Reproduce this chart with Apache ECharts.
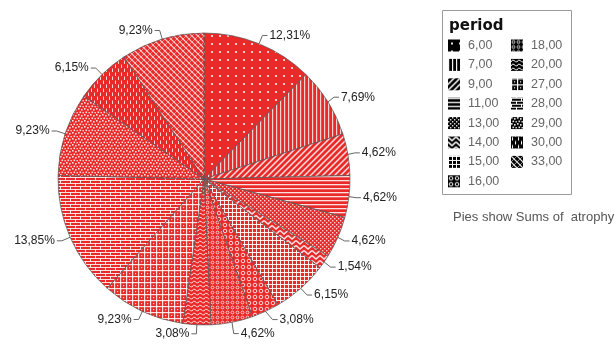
<!DOCTYPE html>
<html>
<head>
<meta charset="utf-8">
<script src="https://cdn.jsdelivr.net/npm/echarts@6/dist/echarts.min.js"></script>
<style>
  html, body { margin: 0; padding: 0; background: #fff; }
  #chart { width: 614px; height: 344px; }
</style>
</head>
<body>
<div id="chart"></div>
<script>
// period categories (legend order = slice order, clockwise from 12 o'clock)
const periods = ['6,00', '7,00', '9,00', '11,00', '13,00', '14,00', '15,00', '16,00',
                 '18,00', '20,00', '27,00', '28,00', '29,00', '30,00', '33,00'];
// share of the atrophy sum per period, in percent
const sharePct = [12.31, 7.69, 4.62, 4.62, 4.62, 1.54, 6.15, 3.08,
                  4.62, 3.08, 9.23, 13.85, 9.23, 6.15, 9.23];
// fill pattern used for each period
const patternKeys = ['dots', 'vlines', 'diag', 'hlines', 'fine', 'zigzag', 'grid', 'rings',
                     'smallRings', 'waves', 'bigDots', 'bricks', 'pebbles', 'dashes', 'mesh'];

const SLICE_RED = '#ea2929';

// Small repeating tiles: background colour plus light marks.
const patternDraw = {
  dots:   { w: 8, h: 8, a: 0.75, f: g => { g.fillRect(3, 3, 2, 2); } },
  vlines: { w: 4, h: 4, a: 0.8, f: g => { g.fillRect(0, 0, 1.2, 4); } },
  diag:   { w: 6, h: 6, a: 0.85, f: g => {
            g.lineWidth = 1.5; g.beginPath();
            g.moveTo(-1, 7); g.lineTo(7, -1);
            g.moveTo(-1, 1); g.lineTo(1, -1);
            g.moveTo(5, 7); g.lineTo(7, 5); g.stroke(); } },
  hlines: { w: 4, h: 4, a: 0.85, f: g => { g.fillRect(0, 0, 4, 1.3); } },
  fine:   { w: 4, h: 4, a: 0.8, f: g => { g.fillRect(0, 0, 1.4, 1.4); g.fillRect(2, 2, 1.4, 1.4); } },
  zigzag: { w: 8, h: 5, a: 0.85, f: g => {
            g.lineWidth = 1.6; g.beginPath();
            g.moveTo(0, 0.5); g.lineTo(4, 4); g.lineTo(8, 0.5); g.stroke(); } },
  grid:   { w: 4, h: 4, a: 0.9, f: g => { g.fillRect(0, 0, 4, 1); g.fillRect(0, 0, 1, 4); } },
  rings:  { w: 6, h: 6, a: 0.8, f: g => {
            g.lineWidth = 1; g.beginPath(); g.arc(3, 3, 1.8, 0, Math.PI * 2); g.stroke(); } },
  smallRings: { w: 5, h: 5, a: 0.8, f: g => {
            g.lineWidth = 0.9; g.beginPath(); g.arc(2.5, 2.5, 1.4, 0, Math.PI * 2); g.stroke(); } },
  waves:  { w: 6, h: 4, a: 0.8, f: g => {
            g.lineWidth = 1; g.beginPath();
            g.moveTo(0, 3); g.quadraticCurveTo(1.5, 0, 3, 1.5); g.quadraticCurveTo(4.5, 3, 6, 3);
            g.stroke(); } },
  bigDots: { w: 6, h: 6, a: 0.85, f: g => {
            g.fillRect(0, 0, 6, 1.2); g.fillRect(0, 0, 1.2, 6); g.fillRect(3, 3, 1.2, 1.2); } },
  bricks: { w: 10, h: 6, a: 0.85, f: g => {
            g.fillRect(0, 0, 10, 1); g.fillRect(0, 3, 10, 1);
            g.fillRect(0, 0, 1, 3); g.fillRect(5, 3, 1, 3); } },
  pebbles: { w: 6, h: 6, a: 0.85, f: g => {
            g.fillRect(0, 0, 1.6, 1.6); g.fillRect(3, 1, 1.6, 1.6);
            g.fillRect(1.5, 3.5, 1.6, 1.6); g.fillRect(4.5, 4, 1.4, 1.4); } },
  dashes: { w: 6, h: 8, a: 0.8, f: g => { g.fillRect(1, 0.5, 1, 3.5); g.fillRect(4, 4.5, 1, 3.5); } },
  mesh:   { w: 6, h: 6, a: 0.8, f: g => {
            g.lineWidth = 1.2; g.beginPath();
            g.moveTo(-1, -1); g.lineTo(7, 7);
            g.moveTo(-1, 5); g.lineTo(1, 7);
            g.moveTo(5, -1); g.lineTo(7, 1); g.stroke();
            g.lineWidth = 0.6; g.beginPath();
            g.moveTo(-1, 7); g.lineTo(7, -1); g.stroke(); } }
};

function makeTile(key, bg, alphaScale) {
  const p = patternDraw[key];
  const c = document.createElement('canvas');
  c.width = p.w; c.height = p.h;
  const g = c.getContext('2d');
  g.fillStyle = bg; g.fillRect(0, 0, p.w, p.h);
  const col = 'rgba(255,255,255,' + Math.min(1, p.a * alphaScale) + ')';
  g.fillStyle = col; g.strokeStyle = col;
  p.f(g);
  return { image: c, repeat: 'repeat' };
}

const pieData = periods.map((name, i) => ({
  name: name,
  value: sharePct[i],
  itemStyle: { color: makeTile(patternKeys[i], SLICE_RED, 1) }
}));

function legendItems(from, to) {
  return periods.slice(from, to).map((name, k) => ({
    name: name,
    icon: 'rect',
    itemStyle: { color: makeTile(patternKeys[from + k], '#000', 1.2), borderWidth: 0 }
  }));
}

const legendCommon = {
  orient: 'vertical',
  top: 39,
  padding: 0,
  itemWidth: 12,
  itemHeight: 12,
  itemGap: 6.4,
  selectedMode: false,
  textStyle: { color: '#666', fontSize: 12.5, fontFamily: 'Liberation Sans, Arial, sans-serif',
               lineHeight: 13, padding: [0, 0, 0, 3] }
};

const chart = echarts.init(document.getElementById('chart'), null, { renderer: 'canvas' });
chart.setOption({
  animation: false,
  backgroundColor: '#fff',
  legend: [
    Object.assign({ left: 448, data: legendItems(0, 8) }, legendCommon),
    Object.assign({ left: 511, data: legendItems(8, 15) }, legendCommon)
  ],
  graphic: [
    { type: 'rect', left: 442, top: 10, z: -1,
      shape: { width: 129, height: 184 },
      style: { fill: '#fff', stroke: '#9a9a9a', lineWidth: 1 } },
    { type: 'text', left: 449, top: 19,
      style: { text: 'period', fill: '#111', font: 'bold 15px "DejaVu Sans", sans-serif' } },
    { type: 'text', left: 453, top: 211,
      style: { text: 'Pies show Sums of  atrophy', fill: '#555',
               font: '13px "Liberation Sans", Arial, sans-serif' } }
  ],
  series: [{
    type: 'pie',
    center: [204, 179],
    radius: 146,
    startAngle: 90,
    clockwise: true,
    data: pieData,
    itemStyle: { borderColor: '#555', borderWidth: 0.7 },
    label: {
      show: true,
      position: 'outside',
      formatter: p => p.value.toFixed(2).replace('.', ',') + '%',
      color: '#222',
      fontSize: 12,
      fontFamily: 'Liberation Sans, Arial, sans-serif',
      distanceToLabelLine: 2
    },
    labelLine: { show: true, length: 9, length2: 5, lineStyle: { color: '#666', width: 1 } },
    emphasis: { disabled: true }
  }]
});
</script>
</body>
</html>
